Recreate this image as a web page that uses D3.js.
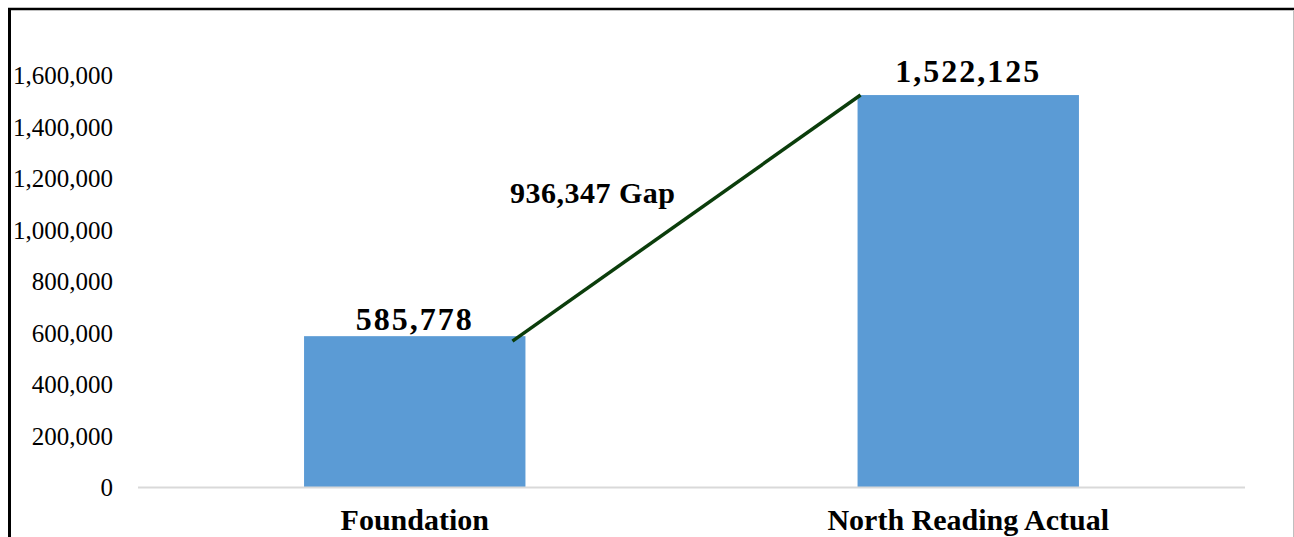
<!DOCTYPE html>
<html><head><meta charset="utf-8">
<script src="https://cdn.jsdelivr.net/npm/d3@7"></script>
<style>
html,body{margin:0;padding:0;background:#fff;}
svg{display:block;}
</style></head>
<body>
<svg id="chart" width="1294" height="537"></svg>
<script>
const categories = ["Foundation", "North Reading Actual"];
const values = [585778, 1522125];
const valueLabels = ["585,778", "1,522,125"];
const yTicks = [0, 200000, 400000, 600000, 800000, 1000000, 1200000, 1400000, 1600000];
const gapLabel = "936,347 Gap";

(function(){
const svg = d3.select("#chart");
const W = 1294, H = 537;
const mLeft = 138, mRight = 1245, mTop = 23.5, mBottom = 487;

// frame
svg.append("rect").attr("x",0).attr("y",0).attr("width",W).attr("height",H).attr("fill","#fff");
svg.append("line").attr("x1",9.5).attr("x2",9.5).attr("y1",8).attr("y2",H).attr("stroke","#000").attr("stroke-width",3);
svg.append("line").attr("x1",8).attr("x2",1294).attr("y1",9).attr("y2",9).attr("stroke","#000").attr("stroke-width",2.5);
svg.append("line").attr("x1",1293.5).attr("x2",1293.5).attr("y1",10).attr("y2",H).attr("stroke","#bfbfbf").attr("stroke-width",1);

const x = d3.scaleBand().domain(categories).range([mLeft, mRight]).paddingInner(0.6).paddingOuter(0.3);
const y = d3.scaleLinear().domain([0, 1800000]).range([mBottom, mTop]);

// y axis labels
const yAxis = d3.axisLeft(y).tickValues(yTicks).tickFormat(d3.format(",")).tickSize(0).tickPadding(0);
const gy = svg.append("g").attr("transform", "translate(113,0)").call(yAxis);
gy.select(".domain").remove();
gy.selectAll("text").attr("font-family","'Liberation Serif', serif").attr("font-size",25).attr("fill","#000").attr("dy","0.34em");

// bars
svg.selectAll("rect.bar").data(values).enter().append("rect").attr("class","bar")
  .attr("x",(d,i)=>x(categories[i])).attr("width",x.bandwidth())
  .attr("y",d=>y(d)).attr("height",d=>y(0)-y(d)).attr("fill","#5b9bd5");

// baseline
svg.append("line").attr("x1",mLeft).attr("x2",mRight).attr("y1",y(0)+0.5).attr("y2",y(0)+0.5).attr("stroke","#d9d9d9").attr("stroke-width",2);

// x axis labels
const xAxis = d3.axisBottom(x).tickSize(0).tickPadding(0);
const gx = svg.append("g").attr("transform", "translate(0,530)").call(xAxis);
gx.select(".domain").remove();
gx.selectAll("text").attr("font-family","'Liberation Serif', serif").attr("font-weight","bold").attr("font-size",30).attr("fill","#000").attr("dy","0");

// value labels
const labelDy = [-6, -13];
svg.selectAll("text.val").data(values).enter().append("text").attr("class","val")
  .attr("x",(d,i)=>x(categories[i])+x.bandwidth()/2)
  .attr("y",(d,i)=>y(d)+labelDy[i])
  .attr("text-anchor","middle")
  .attr("font-family","'Liberation Serif', serif").attr("font-weight","bold").attr("font-size",32)
  .attr("letter-spacing","2px").attr("fill","#000")
  .text((d,i)=>valueLabels[i]);

// gap line
const x1 = x(categories[0]) + x.bandwidth() - 13, y1 = y(values[0]) + 5;
const x2 = x(categories[1]) + 3, y2 = y(values[1]);
svg.append("line").attr("x1",x1).attr("y1",y1).attr("x2",x2).attr("y2",y2)
  .attr("stroke","#0b3d0b").attr("stroke-width",3.5);

svg.append("text").attr("x",510).attr("y",203)
  .attr("font-family","'Liberation Serif', serif").attr("font-weight","bold").attr("font-size",30)
  .attr("letter-spacing","0.5px").attr("fill","#000").text(gapLabel);
})();
</script>
</body></html>
